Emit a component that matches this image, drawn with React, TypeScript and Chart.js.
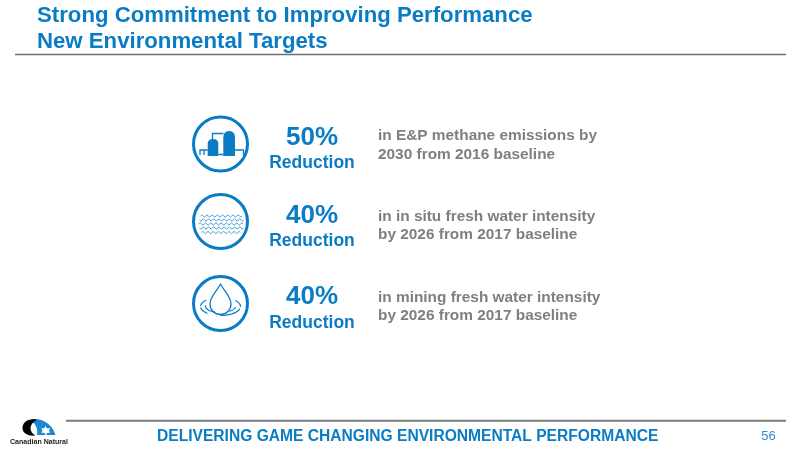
import React, { useEffect, useRef } from "react";
import { Chart, registerables } from "chart.js";

Chart.register(...registerables);

const titleLines = ["Strong Commitment to Improving Performance", "New Environmental Targets"];
const reductionPercents = [50, 40, 40];
const reductionWord = "Reduction";
const noteFirstLines = ["in E&P methane emissions by", "in in situ fresh water intensity", "in mining fresh water intensity"];
const noteSecondLines = ["2030 from 2016 baseline", "by 2026 from 2017 baseline", "by 2026 from 2017 baseline"];
const footerText = "DELIVERING GAME CHANGING ENVIRONMENTAL PERFORMANCE";
const pageNumber = "56";
const logoText = "Canadian Natural";

const BLUE = "#0a7cc4";
const GREY = "#7f7f7f";
const FONT = '"Liberation Sans", Arial, sans-serif';
const ICON_X = 220.5;
const ICON_Y = [144, 221.5, 303.5];
const PCT_Y = [138, 216, 296.5];
const WORD_Y = [163.5, 241.5, 323];
const NOTE1_Y = [136, 217, 297.5];
const NOTE2_Y = [155, 235, 316];

function text(c: CanvasRenderingContext2D, s: string, x: number, y: number, font: string, color: string, align: CanvasTextAlign = "left", maxW?: number) {
  c.font = font;
  c.fillStyle = color;
  c.textAlign = align;
  c.textBaseline = "middle";
  if (maxW) c.fillText(s, x, y, maxW);
  else c.fillText(s, x, y);
}

function line(c: CanvasRenderingContext2D, x1: number, y1: number, x2: number, y2: number, color: string, w: number) {
  c.strokeStyle = color;
  c.lineWidth = w;
  c.beginPath();
  c.moveTo(x1, y1);
  c.lineTo(x2, y2);
  c.stroke();
}

function plant(c: CanvasRenderingContext2D, cx: number, cy: number) {
  const X = (v: number) => cx + v;
  const Y = (v: number) => cy + v;
  c.fillStyle = BLUE;
  // tall tank
  c.beginPath();
  c.moveTo(X(2.8), Y(12));
  c.lineTo(X(2.8), Y(-6));
  c.quadraticCurveTo(X(2.8), Y(-13), X(8.7), Y(-13));
  c.quadraticCurveTo(X(14.5), Y(-13), X(14.5), Y(-6));
  c.lineTo(X(14.5), Y(12));
  c.closePath();
  c.fill();
  // small tank
  c.beginPath();
  c.moveTo(X(-12.8), Y(12));
  c.lineTo(X(-12.8), Y(-0.5));
  c.quadraticCurveTo(X(-12.5), Y(-5), X(-7.5), Y(-5));
  c.quadraticCurveTo(X(-2.2), Y(-5), X(-2.2), Y(-0.5));
  c.lineTo(X(-2.2), Y(12));
  c.closePath();
  c.fill();
  c.lineWidth = 1.3;
  c.strokeStyle = BLUE;
  c.beginPath();
  c.moveTo(X(-8), Y(-5));
  c.lineTo(X(-8), Y(-10.5));
  c.lineTo(X(3), Y(-10.5));
  c.moveTo(X(-20.5), Y(11));
  c.lineTo(X(-20.5), Y(6));
  c.lineTo(X(-12.8), Y(6));
  c.moveTo(X(-16.5), Y(11));
  c.lineTo(X(-16.5), Y(6));
  c.moveTo(X(14.5), Y(6));
  c.lineTo(X(23), Y(6));
  c.lineTo(X(23), Y(11));
  c.moveTo(X(-2.2), Y(10.5));
  c.lineTo(X(3), Y(10.5));
  c.stroke();
}

function waves(c: CanvasRenderingContext2D, cx: number, cy: number) {
  const rows: number[][] = [[-5.5, 20], [-1.5, 21], [2.5, 21.5], [6.5, 21], [11, 19]];
  c.strokeStyle = "#2f93d3";
  c.lineWidth = 0.9;
  rows.forEach(([dy, half], r) => {
    c.beginPath();
    const step = 2.6;
    let x = cx - half;
    let up = r % 2 === 0;
    c.moveTo(x, cy + dy);
    while (x < cx + half) {
      c.quadraticCurveTo(x + step / 2, cy + dy + (up ? -2.2 : 2.2), x + step, cy + dy);
      x += step;
      up = !up;
    }
    c.stroke();
  });
}

function drop(c: CanvasRenderingContext2D, cx: number, cy: number) {
  c.strokeStyle = BLUE;
  c.lineWidth = 1.3;
  c.lineCap = "round";
  c.beginPath();
  c.moveTo(cx, cy - 19.5);
  c.bezierCurveTo(cx - 4, cy - 12, cx - 10.5, cy - 7, cx - 10.5, cy + 0.5);
  c.arc(cx, cy + 0.5, 10.5, Math.PI, 0, true);
  c.bezierCurveTo(cx + 10.5, cy - 7, cx + 4, cy - 12, cx, cy - 19.5);
  c.stroke();
  const arcs: [number, number, number, number][] = [
    [15, 6, 0.15, 0.9],
    [15, 6, 2.0, 3.25],
    [20, 9, 0.3, 0.95],
    [20, 9, 1.0, 1.55],
    [20, 9, 2.3, 3.0],
    [20, 9, 3.25, 3.9],
    [20, 9, -0.7, 0.0],
  ];
  c.lineWidth = 1.2;
  arcs.forEach(([rx, ry, a, b]) => {
    c.beginPath();
    c.ellipse(cx, cy + 3, rx, ry, 0, a, b);
    c.stroke();
  });
  c.lineCap = "butt";
}

function logo(c: CanvasRenderingContext2D) {
  // blue arch
  c.fillStyle = "#1a87cf";
  c.beginPath();
  c.moveTo(32, 419);
  c.bezierCurveTo(43, 418, 52, 424, 55.5, 435);
  c.lineTo(37, 435);
  c.bezierCurveTo(38, 429, 36, 424, 31, 421);
  c.closePath();
  c.fill();
  // white leaf
  c.fillStyle = "#ffffff";
  c.beginPath();
  c.moveTo(45.5, 426);
  c.lineTo(47, 428.5);
  c.lineTo(50, 428);
  c.lineTo(49, 431);
  c.lineTo(50.5, 432.5);
  c.lineTo(47, 433);
  c.lineTo(46, 436);
  c.lineTo(44.5, 433);
  c.lineTo(41, 432.5);
  c.lineTo(42.5, 431);
  c.lineTo(41.5, 428);
  c.lineTo(44, 428.5);
  c.closePath();
  c.fill();
  // black crescent
  c.fillStyle = "#050505";
  c.beginPath();
  c.moveTo(37, 419.5);
  c.bezierCurveTo(27, 418, 22.5, 423, 22.5, 428);
  c.bezierCurveTo(22.5, 432.5, 27, 436.5, 35.5, 435.5);
  c.bezierCurveTo(32, 433.5, 30.5, 431, 30.5, 428);
  c.bezierCurveTo(30.5, 425, 33, 422, 37, 419.5);
  c.closePath();
  c.fill();
  text(c, logoText, 10, 441.5, `bold 8px ${FONT}`, "#222222", "left", 58);
}

const slidePlugin = {
  id: "slide",
  afterDatasetsDraw(chart: any) {
    const c: CanvasRenderingContext2D = chart.ctx;
    const sx = chart.scales.x;
    const sy = chart.scales.y;
    const px = (v: number) => sx.getPixelForValue(v);
    const py = (v: number) => sy.getPixelForValue(v);
    c.save();
    text(c, titleLines[0], 37, 15.5, `bold 22.2px ${FONT}`, BLUE);
    text(c, titleLines[1], 37, 42, `bold 22.2px ${FONT}`, BLUE);
    line(c, 15, 54.5, 786, 54.5, "#6f6f6f", 1.3);
    line(c, 66, 420.7, 786, 420.7, "#7d7d7d", 2);
    reductionPercents.forEach((p, i) => {
      text(c, `${p}%`, 312, py(PCT_Y[i]), `bold 26px ${FONT}`, BLUE, "center");
      text(c, reductionWord, 312, py(WORD_Y[i]), `bold 17.5px ${FONT}`, BLUE, "center");
      text(c, noteFirstLines[i], 378, py(NOTE1_Y[i]), `bold 15.4px ${FONT}`, GREY);
      text(c, noteSecondLines[i], 378, py(NOTE2_Y[i]), `bold 15.4px ${FONT}`, GREY);
    });
    plant(c, px(ICON_X), py(ICON_Y[0]));
    waves(c, px(ICON_X), py(ICON_Y[1]));
    drop(c, px(ICON_X), py(ICON_Y[2]));
    text(c, footerText, 157, 436.5, `bold 15.6px ${FONT}`, BLUE);
    text(c, pageNumber, 768.5, 436.5, `13px ${FONT}`, "#2a90d6", "center");
    logo(c);
    c.restore();
  },
};

export default function App() {
  const ref = useRef<HTMLCanvasElement>(null);
  useEffect(() => {
    if (!ref.current) return;
    const chart = new Chart(ref.current, {
      type: "scatter",
      data: {
        datasets: [
          {
            label: "Targets",
            data: reductionPercents.map((_, i) => ({ x: ICON_X, y: ICON_Y[i] })),
            pointStyle: "circle",
            pointRadius: 27,
            pointHoverRadius: 27,
            pointBorderWidth: 3,
            pointBorderColor: BLUE,
            pointBackgroundColor: "#ffffff",
          },
        ],
      },
      options: {
        responsive: false,
        animation: false,
        events: [],
        layout: { padding: 0, autoPadding: false },
        plugins: { legend: { display: false }, title: { display: false }, tooltip: { enabled: false } },
        scales: {
          x: { type: "linear", display: false, min: 0, max: 800 },
          y: { type: "linear", display: false, min: 0, max: 450, reverse: true },
        },
      },
      plugins: [slidePlugin],
    });
    return () => chart.destroy();
  }, []);
  return (
    <div style={{ position: "fixed", left: 0, top: 0, width: 800, height: 450, background: "#ffffff" }}>
      <canvas ref={ref} width={800} height={450} style={{ display: "block" }} />
    </div>
  );
}
